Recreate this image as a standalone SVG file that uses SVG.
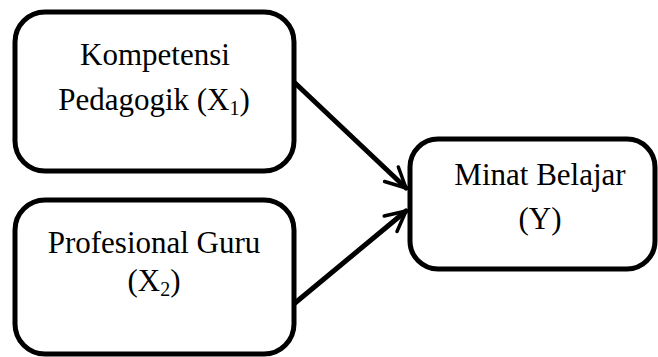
<svg xmlns="http://www.w3.org/2000/svg" width="658" height="357" viewBox="0 0 658 357">
<style>
.box{fill:#fff;stroke:#000;stroke-width:5}
.t{font-family:"Liberation Serif","Times New Roman",serif;font-size:31px;fill:#000;text-anchor:middle}
.sub{font-size:20px}
.edge{fill:none;stroke:#000;stroke-width:5;stroke-linecap:round;stroke-linejoin:round}
</style>
<defs>
<marker id="arr" viewBox="0 0 10 10" refX="9" refY="5" markerWidth="5" markerHeight="5" markerUnits="strokeWidth" orient="auto">
<path d="M1,1 L9,5 L1,9" fill="none" stroke="#000" stroke-width="1.4" stroke-linecap="round" stroke-linejoin="round"/>
</marker>
</defs>
<g id="connectors">
<path class="edge" d="M295,83 L406,188" marker-end="url(#arr)"/>
<path class="edge" d="M295,303 L406,211" marker-end="url(#arr)"/>
</g>
<g id="node-x1">
<rect class="box" x="15" y="12" width="279" height="159" rx="30"/>
<text class="t" x="155" y="65">Kompetensi</text>
<text class="t" x="154" y="110">Pedagogik (X<tspan class="sub" dy="5">1</tspan><tspan dy="-5">)</tspan></text>
</g>
<g id="node-x2">
<rect class="box" x="15" y="200" width="279" height="154" rx="30"/>
<text class="t" x="154" y="253">Profesional Guru</text>
<text class="t" x="154" y="291">(X<tspan class="sub" dy="5">2</tspan><tspan dy="-5">)</tspan></text>
</g>
<g id="node-y">
<rect class="box" x="410" y="139" width="245" height="130" rx="28"/>
<text class="t" x="540" y="185">Minat Belajar</text>
<text class="t" x="540" y="229">(Y)</text>
</g>
</svg>
